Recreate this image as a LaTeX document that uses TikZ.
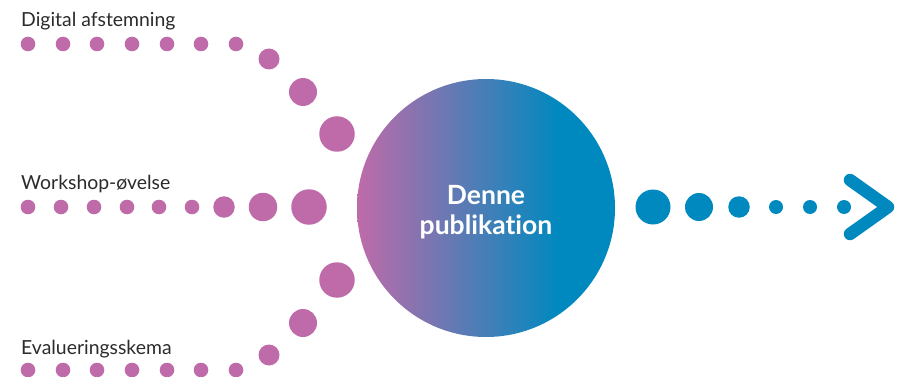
\documentclass[tikz,border=0pt]{standalone}
\usepackage{fontspec}
\setmainfont{Lato}[Ligatures=NoCommon]
\definecolor{pinkc}{HTML}{BF6BA9}
\definecolor{bluec}{HTML}{0089BF}
\definecolor{textc}{HTML}{2B2B2B}
\pgfdeclarehorizontalshading{ballgrad}{100bp}{color(0bp)=(pinkc); color(25bp)=(pinkc); color(64bp)=(bluec); color(100bp)=(bluec)}
\tikzset{
  pdot/.style={circle, fill=pinkc, inner sep=0pt, minimum size=#1},
  bdot/.style={circle, fill=bluec, inner sep=0pt, minimum size=#1},
  lbl/.style={anchor=base west, inner sep=0pt, text=textc, font=\fontsize{19.4}{22}\selectfont},
}
\begin{document}
\begin{tikzpicture}[x=1pt,y=-1pt]
\useasboundingbox (0,0) rectangle (910,377);
% central circle
\shade[shading=ballgrad] (486,208) circle (129);
\node[text=white, align=center, font=\fontsize{26.5}{30}\selectfont\bfseries] (pub) at (486,212) {Denne\\publikation};
% labels
\node[lbl] (l1) at (21,27) {Digital afstemning};
\node[lbl] (l2) at (21,189) {Workshop-øvelse};
\node[lbl] (l3) at (21,354) {Evalueringsskema};
% top row
\foreach \x [count=\i] in {28,63,97,132,167,201,236} {\node[pdot=14.6pt] (t\i) at (\x,44) {};}
\node[pdot=21pt] (t8) at (269,59) {};
\node[pdot=28pt] (t9) at (303,92) {};
\node[pdot=35.5pt] (t10) at (337,134) {};
% middle row
\foreach \x [count=\i] in {28,61,94,127,159,192} {\node[pdot=14.6pt] (m\i) at (\x,207) {};}
\node[pdot=21.5pt] (m7) at (224,207) {};
\node[pdot=28.5pt] (m8) at (263,207) {};
\node[pdot=35.5pt] (m9) at (309,207) {};
% bottom row
\foreach \x [count=\i] in {28,63,97,132,167,201,236} {\node[pdot=14.6pt] (b\i) at (\x,370) {};}
\node[pdot=21pt] (b8) at (269,355) {};
\node[pdot=28pt] (b9) at (303,323) {};
\node[pdot=35.5pt] (b10) at (337,280) {};
% blue row
\node[bdot=35pt] (r1) at (653,207) {};
\node[bdot=28pt] (r2) at (699,207) {};
\node[bdot=21.5pt] (r3) at (739,207) {};
\node[bdot=14pt] (r4) at (776,207) {};
\node[bdot=14pt] (r5) at (810,207) {};
\node[bdot=14pt] (r6) at (844,207) {};
% chevron
\coordinate (c1) at (850,180);
\coordinate (c2) at (888,207);
\coordinate (c3) at (850,234);
\draw[bluec, line width=12.5pt, line cap=round, line join=round] (c1) -- (c2) -- (c3);
\end{tikzpicture}
\end{document}
